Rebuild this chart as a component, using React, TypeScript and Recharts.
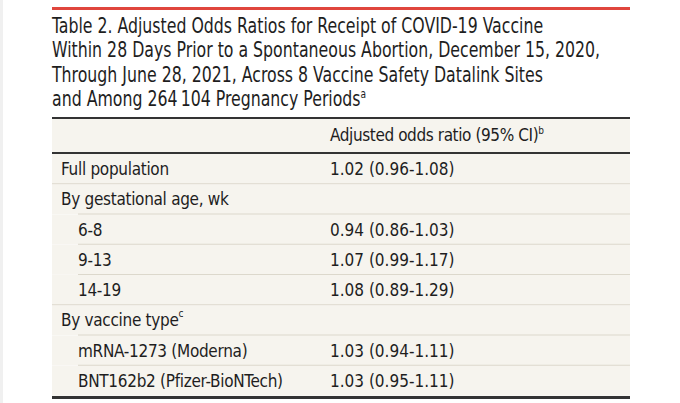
import React from 'react';
import { BarChart, Bar, XAxis, YAxis } from 'recharts';

const titleLines = [
  'Table 2. Adjusted Odds Ratios for Receipt of COVID-19 Vaccine',
  'Within 28 Days Prior to a Spontaneous Abortion, December 15, 2020,',
  'Through June 28, 2021, Across 8 Vaccine Safety Datalink Sites',
  'and Among 264\u2009104 Pregnancy Periods',
];
const titleNote = 'a';
const columnHeader = 'Adjusted odds ratio (95% CI)';
const columnNote = 'b';

const rowLabels = [
  'Full population',
  'By gestational age, wk',
  '6-8',
  '9-13',
  '14-19',
  'By vaccine type',
  'mRNA-1273 (Moderna)',
  'BNT162b2 (Pfizer-BioNTech)',
];
const rowNotes = ['', '', '', '', '', 'c', '', ''];
const indentLevels = [0, 0, 1, 1, 1, 0, 1, 1];
const oddsRatios = [1.02, null, 0.94, 1.07, 1.08, null, 1.03, 1.03];
const ciLower = [0.96, null, 0.86, 0.99, 0.89, null, 0.94, 0.95];
const ciUpper = [1.08, null, 1.03, 1.17, 1.29, null, 1.11, 1.11];

const FONT = "'Liberation Sans Narrow', 'DejaVu Sans Condensed', 'Roboto Condensed', 'Liberation Sans', sans-serif";
const INK = '#1e1e1e';
const PAPER = '#f6f4ee';
const RULE = '#dcd8cc';

const rows = rowLabels.map((label, i) => ({
  label,
  note: rowNotes[i],
  indent: indentLevels[i],
  nextIndent: i < rowLabels.length - 1 ? indentLevels[i + 1] : null,
  value:
    oddsRatios[i] == null
      ? ''
      : `${oddsRatios[i]!.toFixed(2)} (${ciLower[i]!.toFixed(2)}-${ciUpper[i]!.toFixed(2)})`,
  span: 1,
}));

const TABLE_W = 578;
const VALUE_X = 278;

const RowShape = (props: any) => {
  const { x, y, width, height, payload } = props;
  const cy = y + height / 2;
  const tx = x + (payload.indent ? 26 : 9);
  return (
    <g>
      <rect x={x} y={y} width={width} height={height} fill={PAPER} />
      {payload.nextIndent != null && (
        <line
          x1={x + (payload.nextIndent ? 26 : 0)}
          x2={x + width}
          y1={y + height}
          y2={y + height}
          stroke={RULE}
          strokeWidth={1.5}
        />
      )}
      <text x={tx} y={cy} dominantBaseline="central" fontSize={17} fill={INK} fontFamily={FONT} letterSpacing={-0.3}>
        {payload.label}
        {payload.note && (
          <tspan fontSize={10} dy={-7}>
            {payload.note}
          </tspan>
        )}
      </text>
      {payload.value && (
        <text x={x + VALUE_X} y={cy} dominantBaseline="central" fontSize={17} fill={INK} fontFamily={FONT}>
          {payload.value}
        </text>
      )}
    </g>
  );
};

export default function App() {
  return (
    <div style={{ position: 'absolute', left: 0, top: 0, width: 680, height: 403, background: '#fff', overflow: 'hidden', fontFamily: FONT, color: INK }}>
      <div style={{ position: 'absolute', left: 0, top: 0, width: 3, height: 403, background: '#f0f0f0' }} />
      <div style={{ position: 'absolute', left: 52, top: 7, width: TABLE_W, height: 3, background: '#e0463d' }} />
      <div
        style={{
          position: 'absolute',
          left: 52,
          top: 14,
          fontSize: 21,
          lineHeight: '24.4px',
          whiteSpace: 'nowrap',
          transform: 'scaleX(0.834)',
          transformOrigin: '0 0',
        }}
      >
        {titleLines.map((line, i) => (
          <div key={i}>
            {line}
            {i === titleLines.length - 1 && (
              <sup style={{ fontSize: 12, verticalAlign: 0, position: 'relative', top: -8 }}>{titleNote}</sup>
            )}
          </div>
        ))}
      </div>
      <div style={{ position: 'absolute', left: 52, top: 117, width: TABLE_W, height: 2, background: '#333' }} />
      <div style={{ position: 'absolute', left: 52, top: 119, width: TABLE_W, height: 33, background: PAPER }}>
        <div style={{ position: 'absolute', left: VALUE_X, top: 0, height: 33, lineHeight: '33px', fontSize: 17, whiteSpace: 'nowrap', letterSpacing: -0.4 }}>
          {columnHeader}
          <sup style={{ fontSize: 10, verticalAlign: 0, position: 'relative', top: -7 }}>{columnNote}</sup>
        </div>
      </div>
      <div style={{ position: 'absolute', left: 52, top: 152, width: TABLE_W, height: 2, background: '#333' }} />
      <div style={{ position: 'absolute', left: 52, top: 154 }}>
        <BarChart
          width={TABLE_W}
          height={242}
          data={rows}
          layout="vertical"
          margin={{ top: 0, right: 0, bottom: 0, left: 0 }}
          barCategoryGap={0}
        >
          <XAxis type="number" domain={[0, 1]} hide />
          <YAxis type="category" dataKey="label" hide />
          <Bar dataKey="span" shape={RowShape} isAnimationActive={false} />
        </BarChart>
      </div>
      <div style={{ position: 'absolute', left: 52, top: 396, width: TABLE_W, height: 3, background: '#333' }} />
    </div>
  );
}
